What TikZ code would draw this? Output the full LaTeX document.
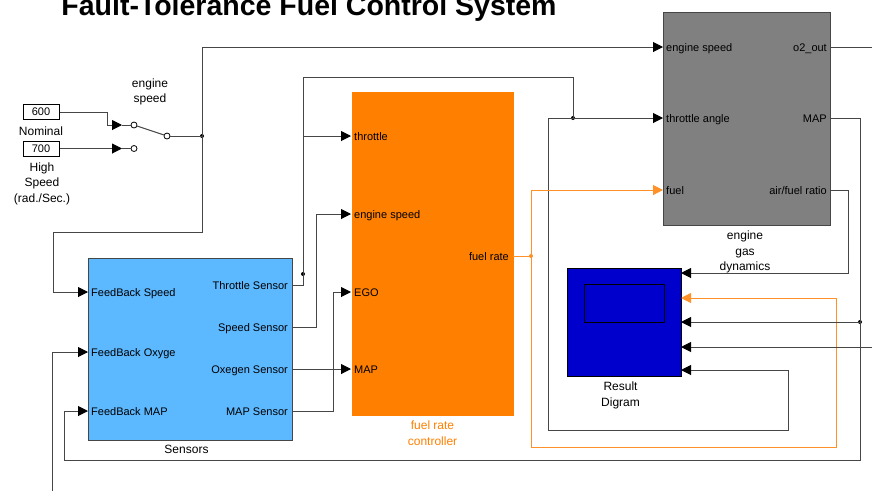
\documentclass[tikz,border=0pt]{standalone}
\usepackage{fontspec}
\setmainfont{Liberation Sans}
\usetikzlibrary{arrows.meta, positioning, calc}
\definecolor{sensblue}{RGB}{92,184,255}
\definecolor{ctrlorange}{RGB}{255,128,0}
\definecolor{enggray}{RGB}{128,128,128}
\definecolor{scopeblue}{RGB}{0,0,204}
\definecolor{wiregray}{RGB}{70,70,70}
\definecolor{fuelorange}{RGB}{255,145,40}

\begin{document}
\begin{tikzpicture}[x=1pt, y=-1pt,
    block/.style={rectangle, draw=wiregray, line width=1pt, inner sep=0pt, anchor=north west},
    constbox/.style={rectangle, draw=black, line width=1pt, fill=white, minimum width=36pt, minimum height=15pt, inner sep=0pt, font=\fontsize{11}{12}\selectfont},
    portin/.style={anchor=base west, inner sep=0pt, font=\fontsize{11}{12}\selectfont},
    portout/.style={anchor=base east, inner sep=0pt, font=\fontsize{11}{12}\selectfont},
    caption/.style={align=center, inner sep=0pt, font=\fontsize{12}{15.5}\selectfont},
    swpin/.style={circle, draw=black, fill=white, line width=0.8pt, minimum size=6pt, inner sep=0pt},
    dot/.style={circle, fill=black, minimum size=4pt, inner sep=0pt},
    wire/.style={draw=wiregray, line width=1pt},
    sig/.style={wire, -{Triangle[length=10pt, width=10pt, color=black]}},
    fuelwire/.style={draw=fuelorange, line width=1pt},
    fuelsig/.style={fuelwire, -{Triangle[length=10pt, width=10pt, color=fuelorange]}}
]
\clip (0,0) rectangle (872,491);
\useasboundingbox (0,0) rectangle (872,491);

\node[anchor=base, inner sep=0pt, font=\fontsize{28.5}{30}\bfseries\selectfont] (title) at (309,15) {Fault-Tolerance Fuel Control System};

% sources and switch
\node[constbox] (c600) at (41,112) {600};
\node[constbox] (c700) at (41,148.5) {700};
\node[caption, below=7pt of c600] (nominal) {Nominal};
\node[caption, below=6pt of c700, xshift=1pt] (highspeed) {High\\Speed\\(rad./Sec.)};
\node[swpin] (sw1) at (134,125) {};
\node[swpin] (sw2) at (134,148.5) {};
\node[swpin] (swo) at (167,136) {};
\node[caption] (swlabel) at (150,92) {engine\\speed};
\coordinate (swin1) at (122,125);
\coordinate (swin2) at (122,148.5);

% blocks
\node[block, fill=sensblue, minimum width=204pt, minimum height=182pt] (sens) at (88,258) {};
\node[block, draw=none, fill=ctrlorange, minimum width=162pt, minimum height=324pt] (frc) at (351,91) {};
\node[block, fill=enggray, minimum width=167pt, minimum height=213pt] (egd) at (663,12) {};
\node[block, draw=black, fill=scopeblue, minimum width=114pt, minimum height=108pt] (res) at (567,268) {};
\node[block, draw=black, minimum width=80pt, minimum height=38pt] (resin) at (584,284) {};

\node[caption, below=4pt of sens, xshift=-4pt] (senscap) {Sensors};
\node[caption, text=ctrlorange, below=5pt of frc] (frccap) {fuel rate\\controller};
\node[caption, below=5pt of egd, xshift=-2pt] (egdcap) {engine\\gas\\dynamics};
\node[caption, below=5pt of res, xshift=-4pt] (rescap) {Result\\Digram};

% ports
\coordinate (fbs) at (88,292);
\coordinate (fbo) at (88,352);
\coordinate (fbm) at (88,411);
\coordinate (ts) at (292,285);
\coordinate (ss) at (292,327);
\coordinate (os) at (292,369);
\coordinate (ms) at (292,411);
\coordinate (thr) at (351,136);
\coordinate (esp) at (351,214);
\coordinate (ego) at (351,292);
\coordinate (map) at (351,369);
\coordinate (frate) at (513,256);
\coordinate (ges) at (663,47);
\coordinate (gta) at (663,118);
\coordinate (gfu) at (663,190);
\coordinate (go2) at (830,47);
\coordinate (gmap) at (830,118);
\coordinate (gafr) at (830,190);
\coordinate (r1) at (681,273);
\coordinate (r2) at (681,298);
\coordinate (r3) at (681,322);
\coordinate (r4) at (681,347);
\coordinate (r5) at (681,370);
\coordinate (thrbr) at (303,136);
\coordinate (eo2) at (872,47);
\coordinate (er4) at (872,347);
\coordinate (ebot) at (52,491);

\node[portin] (lfbs) at ($(fbs)+(3,4)$) {FeedBack Speed};
\node[portin] (lfbo) at ($(fbo)+(3,4)$) {FeedBack Oxyge};
\node[portin] (lfbm) at ($(fbm)+(3,4)$) {FeedBack MAP};
\node[portout] (lts) at ($(ts)+(-4,4)$) {Throttle Sensor};
\node[portout] (lss) at ($(ss)+(-4,4)$) {Speed Sensor};
\node[portout] (los) at ($(os)+(-4,4)$) {Oxegen Sensor};
\node[portout] (lms) at ($(ms)+(-4,4)$) {MAP Sensor};
\node[portin] (lthr) at ($(thr)+(3,4)$) {throttle};
\node[portin] (lesp) at ($(esp)+(3,4)$) {engine speed};
\node[portin] (lego) at ($(ego)+(3,4)$) {EGO};
\node[portin] (lmap) at ($(map)+(3,4)$) {MAP};
\node[portout] (lfrate) at ($(frate)+(-4,4)$) {fuel rate};
\node[portin] (lges) at ($(ges)+(3,4)$) {engine speed};
\node[portin] (lgta) at ($(gta)+(3,4)$) {throttle angle};
\node[portin] (lgfu) at ($(gfu)+(3,4)$) {fuel};
\node[portout] (lgo2) at ($(go2)+(-3,4)$) {o2\_out};
\node[portout] (lgmap) at ($(gmap)+(-3,4)$) {MAP};
\node[portout] (lgafr) at ($(gafr)+(-3,4)$) {air/fuel ratio};

% junctions
\node[dot] (j1) at (202,136) {};
\node[dot] (j2) at (303,274) {};
\node[dot] (j3) at (573,118) {};
\node[dot, fill=fuelorange] (j4) at (531,256) {};
\node[dot] (j5) at (860,322) {};

% connectors
\draw[sig] (c600) -- (107,112) |- (swin1);
\draw[sig] (c700) -- (swin2);
\draw[wire] (swin1) -- (sw1);
\draw[wire] (swin2) -- (sw2);
\draw[wire] (sw1) -- (swo);
\draw[wire] (swo) -- (j1.center);
\draw[sig] (j1.center) |- (ges);
\draw[sig] (j1.center) |- (53,232) |- (fbs);

\draw[sig] (ts) -| (thrbr) -- (thr);
\draw[wire] (thrbr) -- (303,77) -| (j3.center);
\draw[sig] (j3.center) -- (gta);
\draw[sig] (j3.center) -| (548,430) -| (788,370) -- (r5);
\draw[sig] (ss) -| (316,214) -- (esp);
\draw[sig] (os) -- (map);
\draw[sig] (ms) -| (333,292) -- (ego);

\draw[fuelwire] (frate) -- (j4.center);
\draw[fuelsig] (j4.center) |- (gfu);
\draw[fuelsig] (j4.center) |- (836,447) |- (r2);

\draw[wire] (go2) -- (eo2);
\draw[sig] (gmap) -| (860,460) -| (64,411) -- (fbm);
\draw[sig] (j5.center) -- (r3);
\draw[sig] (gafr) -| (848,273) -- (r1);
\draw[sig] (er4) -- (r4);
\draw[sig] (ebot) |- (fbo);

\end{tikzpicture}
\end{document}
